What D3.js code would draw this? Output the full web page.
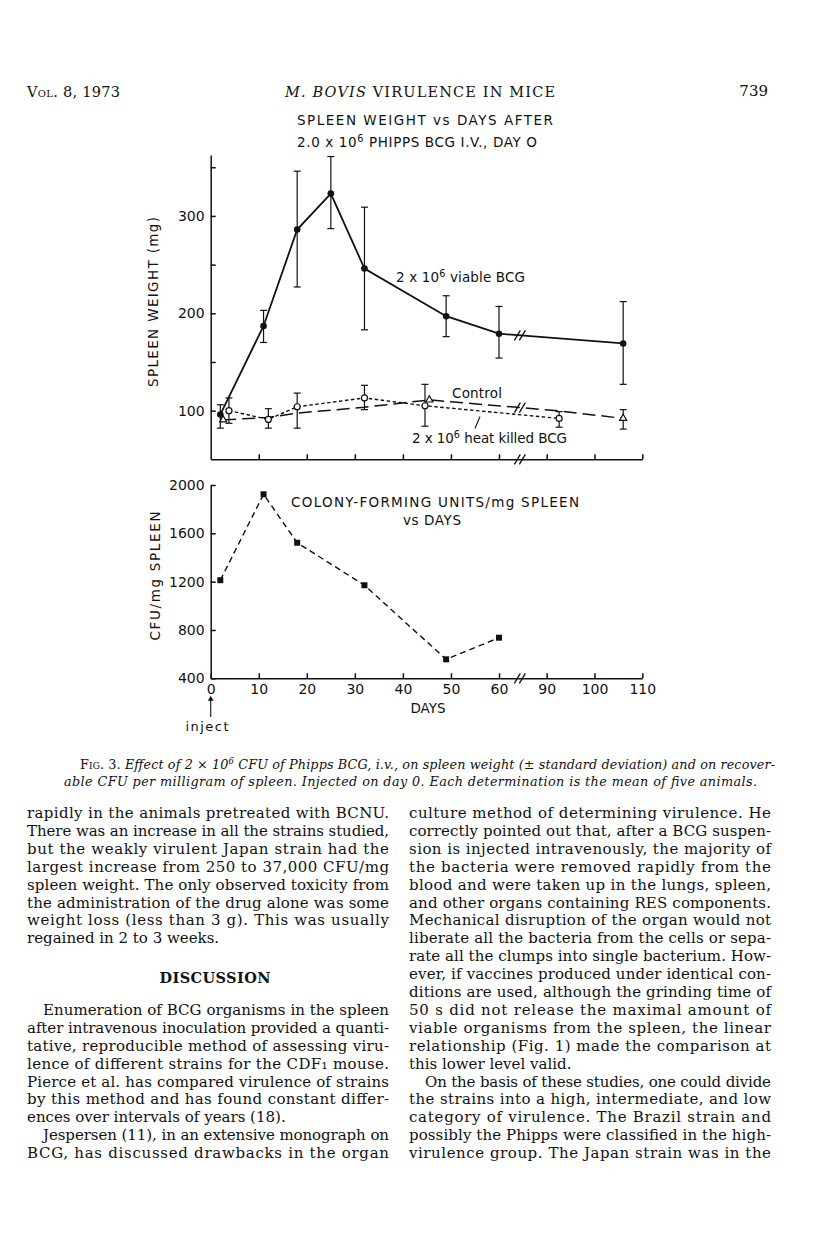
<!DOCTYPE html>
<html>
<head>
<meta charset="utf-8">
<script src="https://cdn.jsdelivr.net/npm/d3@7"></script>
<style>
  body { margin: 0; background: #fff; }
  svg { display: block; }
  .chart text { font-family: "DejaVu Sans", sans-serif; fill: #111; }
  .page text { font-family: "DejaVu Serif", serif; fill: #111; }
  .axis path, .axis line { stroke: #111; stroke-width: 1.5; }
</style>
</head>
<body>
<svg id="page" width="816" height="1253"></svg>
<script>
// ---- spleen weight (mg) vs days ----
const viableDays = [2, 11, 18, 25, 32, 49, 60, 106];
const viableWeight = [96, 187, 286, 323, 246, 197, 179, 169];
const viableLow = [82, 170, 227, 287, 183, 176, 154, 127];
const viableHigh = [106, 203, 346, 361, 309, 218, 207, 212];

const heatDays = [3.8, 12, 18, 32, 44.6, 92.6];
const heatWeight = [100, 91, 104, 113, 105, 92];
const heatLow = [87, 82, 82, 101, 84, 83];
const heatHigh = [113, 102, 118, 126, 127, 99];

const controlDays = [2.6, 12, 18, 32, 45.5, 93, 106];
const controlWeight = [90.5, 93, 97.5, 103.5, 111, 99.5, 92];
const controlMarked = [true, false, false, false, true, false, true];
const controlLow = [null, null, null, null, null, null, 81];
const controlHigh = [null, null, null, null, null, null, 101];

// ---- CFU / mg spleen vs days ----
const cfuDays = [2, 11, 18, 32, 49, 60];
const cfuValues = [1212, 1923, 1522, 1170, 557, 736];

// ---- ticks ----
const dayTicks = [10, 20, 30, 40, 50, 60, 90, 100, 110];
const dayLabels = [0, 10, 20, 30, 40, 50, 60, 90, 100, 110];
const weightTicks = [100, 150, 200, 250, 300, 350];
const weightLabels = [100, 200, 300];
const cfuTicks = [400, 800, 1200, 1600, 2000];

// ---- page text ----
const leftParas = [
  { start: 0, indent: false, open: false, lines: [
    "rapidly in the animals pretreated with BCNU.",
    "There was an increase in all the strains studied,",
    "but the weakly virulent Japan strain had the",
    "largest increase from 250 to 37,000 CFU/mg",
    "spleen weight. The only observed toxicity from",
    "the administration of the drug alone was some",
    "weight loss (less than 3 g). This was usually",
    "regained in 2 to 3 weeks."] },
  { start: 11, indent: true, open: false, lines: [
    "Enumeration of BCG organisms in the spleen",
    "after intravenous inoculation provided a quanti-",
    "tative, reproducible method of assessing viru-",
    "lence of different strains for the CDF\u2081 mouse.",
    "Pierce et al. has compared virulence of strains",
    "by this method and has found constant differ-",
    "ences over intervals of years (18)."] },
  { start: 18, indent: true, open: true, lines: [
    "Jespersen (11), in an extensive monograph on",
    "BCG, has discussed drawbacks in the organ"] }
];
const rightParas = [
  { start: 0, indent: false, open: false, lines: [
    "culture method of determining virulence. He",
    "correctly pointed out that, after a BCG suspen-",
    "sion is injected intravenously, the majority of",
    "the bacteria were removed rapidly from the",
    "blood and were taken up in the lungs, spleen,",
    "and other organs containing RES components.",
    "Mechanical disruption of the organ would not",
    "liberate all the bacteria from the cells or sepa-",
    "rate all the clumps into single bacterium. How-",
    "ever, if vaccines produced under identical con-",
    "ditions are used, although the grinding time of",
    "50 s did not release the maximal amount of",
    "viable organisms from the spleen, the linear",
    "relationship (Fig. 1) made the comparison at",
    "this lower level valid."] },
  { start: 15, indent: true, open: true, lines: [
    "On the basis of these studies, one could divide",
    "the strains into a high, intermediate, and low",
    "category of virulence. The Brazil strain and",
    "possibly the Phipps were classified in the high-",
    "virulence group. The Japan strain was in the"] }
];

const svg = d3.select("#page");
svg.append("rect").attr("width", 816).attr("height", 1253).attr("fill", "#fff");

// scales (broken day axis: 60 -> 90 squeezed into one interval)
const x = d3.scaleLinear()
  .domain([0, 60, 90, 110])
  .range([210.7, 499, 546.7, 642.3]);
const yW = d3.scaleLinear().domain([50, 362.6]).range([459.3, 155]);
const yC = d3.scaleLinear().domain([400, 2000]).range([678.3, 485]);

const chart = svg.append("g").attr("class", "chart");

function supLabel(g, px, py, parts, size, len, anchor) {
  const t = g.append("text")
    .attr("x", px).attr("y", py)
    .attr("font-size", size)
    .attr("text-anchor", anchor || "start");
  if (len) t.attr("textLength", len).attr("lengthAdjust", "spacing");
  let raised = false;
  parts.forEach(p => {
    if (p.startsWith("^")) {
      t.append("tspan").attr("dy", -5).attr("font-size", size * 0.72).text(p.slice(1));
      raised = true;
    } else {
      t.append("tspan").attr("dy", raised ? 5 : 0).text(p);
      raised = false;
    }
  });
  return t;
}

function breakMark(g, cx, cy) {
  [-2.5, 2.5].forEach(o => {
    g.append("line")
      .attr("x1", cx + o - 3).attr("y1", cy + 5)
      .attr("x2", cx + o + 3).attr("y2", cy - 5)
      .attr("stroke", "#111").attr("stroke-width", 1.3);
  });
}

function lerpY(days, vals, yScale, px) {
  for (let i = 0; i < days.length - 1; i++) {
    const a = x(days[i]), b = x(days[i + 1]);
    if (px >= a && px <= b) {
      const t = (px - a) / (b - a);
      return yScale(vals[i]) + t * (yScale(vals[i + 1]) - yScale(vals[i]));
    }
  }
  return yScale(vals[vals.length - 1]);
}

const gapX = (x(60) + x(90)) / 2 - 3;

// ---------- top chart: spleen weight ----------
const topG = chart.append("g");

topG.append("g").attr("class", "axis")
  .attr("transform", "translate(" + x(0) + ",0)")
  .call(d3.axisLeft(yW).tickValues(weightTicks).tickSize(-5).tickSizeOuter(0).tickPadding(6)
    .tickFormat(d => weightLabels.includes(d) ? d : ""))
  .call(g => g.selectAll("text").attr("font-size", 14).attr("font-family", "DejaVu Sans").attr("fill", "#111"));

topG.append("g").attr("class", "axis")
  .attr("transform", "translate(0," + yW(50) + ")")
  .call(d3.axisBottom(x).tickValues(dayTicks).tickSize(-5).tickSizeOuter(0).tickFormat(""));
breakMark(topG, gapX, yW(50));

const wLine = d3.line().x(d => x(d[0])).y(d => yW(d[1]));

function errorBars(g, days, low, high) {
  days.forEach((d, i) => {
    if (low[i] == null) return;
    const px = x(d);
    g.append("line").attr("x1", px).attr("x2", px)
      .attr("y1", yW(low[i])).attr("y2", yW(high[i]))
      .attr("stroke", "#111").attr("stroke-width", 1.2);
    [low[i], high[i]].forEach(v => {
      g.append("line").attr("x1", px - 3.5).attr("x2", px + 3.5)
        .attr("y1", yW(v)).attr("y2", yW(v))
        .attr("stroke", "#111").attr("stroke-width", 1.2);
    });
  });
}

errorBars(topG, viableDays, viableLow, viableHigh);
errorBars(topG, heatDays, heatLow, heatHigh);
errorBars(topG, controlDays, controlLow, controlHigh);

topG.append("path")
  .datum(d3.zip(controlDays, controlWeight))
  .attr("d", wLine).attr("fill", "none")
  .attr("stroke", "#111").attr("stroke-width", 1.5)
  .attr("stroke-dasharray", "13,6");

topG.append("path")
  .datum(d3.zip(heatDays, heatWeight))
  .attr("d", wLine).attr("fill", "none")
  .attr("stroke", "#111").attr("stroke-width", 1.4)
  .attr("stroke-dasharray", "3.5,2.5");

topG.append("path")
  .datum(d3.zip(viableDays, viableWeight))
  .attr("d", wLine).attr("fill", "none")
  .attr("stroke", "#111").attr("stroke-width", 1.8);

breakMark(topG, gapX, lerpY(viableDays, viableWeight, yW, gapX));
breakMark(topG, gapX, lerpY(controlDays, controlWeight, yW, gapX));

topG.selectAll("circle.viable")
  .data(d3.zip(viableDays, viableWeight))
  .enter().append("circle")
  .attr("class", "viable")
  .attr("cx", d => x(d[0])).attr("cy", d => yW(d[1]))
  .attr("r", 3.3).attr("fill", "#111");

topG.selectAll("circle.heat")
  .data(d3.zip(heatDays, heatWeight))
  .enter().append("circle")
  .attr("class", "heat")
  .attr("cx", d => x(d[0])).attr("cy", d => yW(d[1]))
  .attr("r", 3).attr("fill", "#fff").attr("stroke", "#111").attr("stroke-width", 1.2);

topG.selectAll("path.control")
  .data(d3.zip(controlDays, controlWeight).filter((d, i) => controlMarked[i]))
  .enter().append("path")
  .attr("class", "control")
  .attr("transform", d => "translate(" + x(d[0]) + "," + yW(d[1]) + ")")
  .attr("d", d3.symbol(d3.symbolTriangle, 22))
  .attr("fill", "#fff").attr("stroke", "#111").attr("stroke-width", 1.2);

// titles and labels
chart.append("text").attr("x", 297).attr("y", 124.7).attr("font-size", 13.5)
  .attr("textLength", 256).attr("lengthAdjust", "spacing")
  .text("SPLEEN WEIGHT vs DAYS AFTER");
supLabel(chart, 297, 146.5, ["2.0 x 10", "^6", " PHIPPS BCG I.V., DAY O"], 13.5, 240);

chart.append("text")
  .attr("transform", "translate(158,302) rotate(-90)")
  .attr("text-anchor", "middle").attr("font-size", 13.5)
  .attr("textLength", 170).attr("lengthAdjust", "spacing")
  .text("SPLEEN WEIGHT (mg)");

supLabel(chart, 396, 281.5, ["2 x 10", "^6", " viable BCG"], 13.5, 129);
chart.append("text").attr("x", 452).attr("y", 398).attr("font-size", 13.5)
  .attr("textLength", 50).attr("lengthAdjust", "spacing").text("Control");
supLabel(chart, 412, 443, ["2 x 10", "^6", " heat killed BCG"], 13.5, 155);
chart.append("line").attr("x1", 480).attr("y1", 416.5).attr("x2", 475).attr("y2", 428.5)
  .attr("stroke", "#111").attr("stroke-width", 1.1);

// ---------- bottom chart: CFU ----------
const botG = chart.append("g");

botG.append("g").attr("class", "axis")
  .attr("transform", "translate(" + x(0) + ",0)")
  .call(d3.axisLeft(yC).tickValues(cfuTicks).tickSize(-5).tickSizeOuter(0).tickPadding(6)
    .tickFormat(d3.format("d")))
  .call(g => g.selectAll("text").attr("font-size", 14).attr("font-family", "DejaVu Sans").attr("fill", "#111"));

botG.append("g").attr("class", "axis")
  .attr("transform", "translate(0," + yC(400) + ")")
  .call(d3.axisBottom(x).tickValues(dayLabels).tickSize(-5).tickSizeOuter(0).tickPadding(6))
  .call(g => g.selectAll("text").attr("font-size", 14).attr("font-family", "DejaVu Sans").attr("fill", "#111"));
breakMark(botG, gapX, yC(400));

botG.append("path")
  .datum(d3.zip(cfuDays, cfuValues))
  .attr("d", d3.line().x(d => x(d[0])).y(d => yC(d[1])))
  .attr("fill", "none").attr("stroke", "#111").attr("stroke-width", 1.4)
  .attr("stroke-dasharray", "6,4");

botG.selectAll("path.cfu")
  .data(d3.zip(cfuDays, cfuValues))
  .enter().append("path")
  .attr("class", "cfu")
  .attr("transform", d => "translate(" + x(d[0]) + "," + yC(d[1]) + ")")
  .attr("d", d3.symbol(d3.symbolSquare, 36))
  .attr("fill", "#111");

chart.append("text").attr("x", 291).attr("y", 506.5).attr("font-size", 13.5)
  .attr("textLength", 288).attr("lengthAdjust", "spacing")
  .text("COLONY-FORMING UNITS/mg SPLEEN");
chart.append("text").attr("x", 403).attr("y", 525).attr("font-size", 13.5)
  .attr("textLength", 58).attr("lengthAdjust", "spacing").text("vs DAYS");

chart.append("text")
  .attr("transform", "translate(160,576) rotate(-90)")
  .attr("text-anchor", "middle").attr("font-size", 13.5)
  .attr("textLength", 129).attr("lengthAdjust", "spacing")
  .text("CFU/mg SPLEEN");

chart.append("text").attr("x", 428).attr("y", 713).attr("text-anchor", "middle")
  .attr("font-size", 13.5).text("DAYS");
chart.append("text").attr("x", 207).attr("y", 731).attr("text-anchor", "middle")
  .attr("font-size", 13).attr("textLength", 43).attr("lengthAdjust", "spacing").text("inject");
chart.append("line").attr("x1", x(0)).attr("x2", x(0)).attr("y1", 697).attr("y2", 717)
  .attr("stroke", "#111").attr("stroke-width", 1.1);
chart.append("path").attr("d", d3.symbol(d3.symbolTriangle, 14))
  .attr("transform", "translate(" + x(0) + ",699)").attr("fill", "#111");

// ---------- page furniture ----------
const page = svg.append("g").attr("class", "page");

page.append("text").attr("x", 27).attr("y", 97).attr("font-size", 14.5)
  .attr("font-variant", "small-caps").attr("textLength", 93).attr("lengthAdjust", "spacing")
  .text("Vol. 8, 1973");
const runHead = page.append("text").attr("x", 285).attr("y", 97).attr("font-size", 14.5)
  .attr("textLength", 270).attr("lengthAdjust", "spacing");
runHead.append("tspan").attr("font-style", "italic").text("M. BOVIS");
runHead.append("tspan").text(" VIRULENCE IN MICE");
page.append("text").attr("x", 768).attr("y", 96).attr("text-anchor", "end")
  .attr("font-size", 15).text("739");

const cap1 = page.append("text").attr("x", 80).attr("y", 769).attr("font-size", 12.8)
  .attr("textLength", 695).attr("lengthAdjust", "spacing");
cap1.append("tspan").attr("font-variant", "small-caps").text("Fig. 3. ");
cap1.append("tspan").attr("font-style", "italic").text("Effect of 2 \u00d7 10");
cap1.append("tspan").attr("font-style", "italic").attr("font-size", 8.5).attr("dy", -5).text("6");
cap1.append("tspan").attr("font-style", "italic").attr("dy", 5)
  .text(" CFU of Phipps BCG, i.v., on spleen weight (\u00b1 standard deviation) and on recover-");
page.append("text").attr("x", 64).attr("y", 786).attr("font-size", 12.8)
  .attr("font-style", "italic").attr("textLength", 693).attr("lengthAdjust", "spacing")
  .text("able CFU per milligram of spleen. Injected on day 0. Each determination is the mean of five animals.");

const lineH = 17.9, firstBase = 818;
function column(paras, colX, colW) {
  paras.forEach(p => {
    p.lines.forEach((ln, i) => {
      const ind = (p.indent && i === 0) ? 16 : 0;
      const t = page.append("text")
        .attr("x", colX + ind)
        .attr("y", firstBase + (p.start + i) * lineH)
        .attr("font-size", 15)
        .text(ln);
      const last = i === p.lines.length - 1 && !p.open;
      if (!last) t.attr("textLength", colW - ind).attr("lengthAdjust", "spacing");
    });
  });
}
column(leftParas, 27, 362);
column(rightParas, 409, 362);

page.append("text").attr("x", 215).attr("y", 983).attr("text-anchor", "middle")
  .attr("font-size", 14.5).attr("font-weight", "bold").attr("textLength", 111)
  .attr("lengthAdjust", "spacing").text("DISCUSSION");
</script>
</body>
</html>
